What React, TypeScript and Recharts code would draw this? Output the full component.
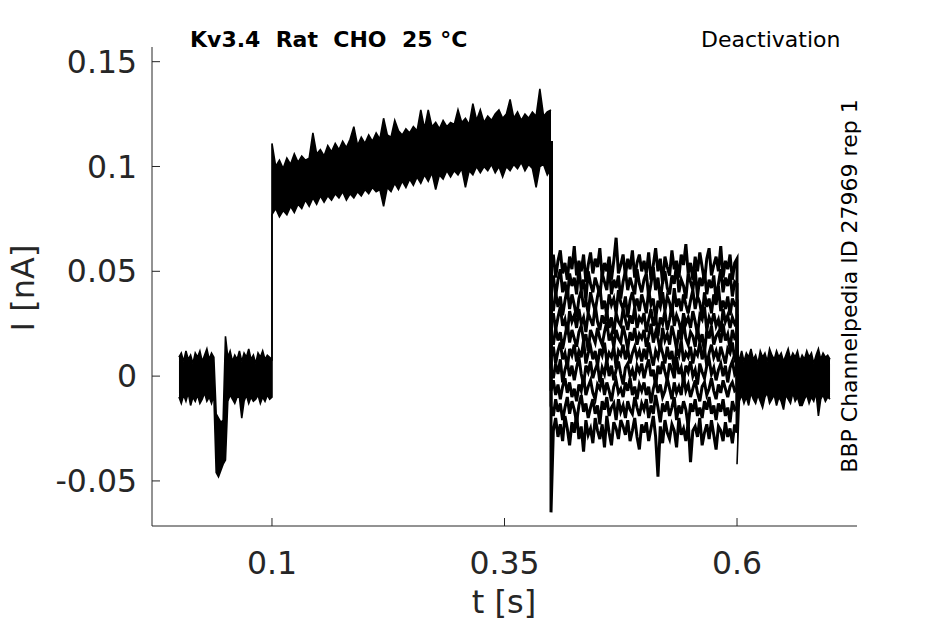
import { ComposedChart, Area, Line, XAxis, YAxis } from 'recharts'

// Kv3.4 deactivation sweeps. Currents are kept in pA, the axis shows nA.

const preDt = 0.0025
const stepDt = 0.004
const tailDt = 0.0025
const postDt = 0.0025
const stepOn = 0.1
const stepOff = 0.4
const tailOff = 0.6

// holding period 0 - 0.1 s: upper / lower edge of the noise band
const preHi = [
  9, 11, 7, 12, 8, 10, 6, 11, 9, 12,
  7, 10, 13, 8, 11, 9, -18, -20, -22, -21,
  19, 9, 12, 7, 10, 8, 12, 7, 11, 9,
  13, 8, 10, 6, 11, 9, 12, 8, 10, 9,
  8,
]
const preLo = [
  -10, -13, -9, -12, -8, -14, -10, -12, -9, -13,
  -11, -8, -12, -10, -13, -9, -46, -48, -45, -42,
  -40, -12, -9, -11, -13, -10, -10, -20, -12, -9,
  -13, -10, -12, -11, -9, -13, -10, -12, -9, -11,
  -10,
]

// activating step 0.1 - 0.4 s
const stepHi = [
  111, 100, 103, 99, 104, 101, 106, 102, 105, 103,
  104, 116, 106, 108, 105, 110, 107, 111, 108, 112,
  109, 113, 119, 110, 114, 111, 115, 112, 116, 113,
  123, 115, 114, 122, 117, 115, 118, 116, 119, 117,
  127, 118, 127, 119, 121, 118, 122, 119, 121, 120,
  127, 121, 123, 120, 130, 122, 127, 121, 124, 122,
  125, 127, 123, 125, 132, 123, 126, 122, 125, 123,
  126, 124, 137, 124, 126, 127,
]
const stepLo = [
  77, 80, 76, 79, 77, 81, 78, 82, 80, 84,
  81, 85, 82, 86, 83, 86, 84, 87, 85, 88,
  84, 87, 85, 88, 86, 89, 87, 90, 88, 89,
  81, 90, 88, 92, 89, 93, 90, 94, 91, 95,
  92, 96, 93, 97, 89, 96, 94, 98, 95, 98,
  96, 99, 90, 98, 96, 100, 97, 100, 98, 101,
  97, 100, 95, 100, 98, 101, 99, 102, 98, 101,
  99, 90, 100, 101, 96, 99,
]

// tail currents 0.4 - 0.6 s, one array per sweep
const tailA = [
  53, 58, 47, 55, 60, 49, 54, 46, 57, 51, 62, 48, 55, 50, 58, 45, 53, 59, 49, 56,
  52, 61, 47, 54, 50, 57, 46, 55, 66, 49, 53, 58, 48, 56, 51, 60, 47, 54, 58, 50,
  55, 49, 59, 46, 53, 61, 50, 56, 44, 57, 52, 48, 60, 51, 55, 47, 58, 53, 63, 49,
  54, 46, 57, 50, 59, 52, 45, 56, 61, 48, 53, 57, 50, 62, 47, 55, 51, 58, 46, 54,
  56,
]
const tailB = [
  42, 48, 38, 46, 51, 40, 45, 37, 49, 43, 47, 39, 52, 41, 46, 36, 50, 44, 40, 47,
  43, 38, 49, 45, 41, 53, 39, 46, 42, 48, 37, 45, 50, 41, 47, 43, 39, 51, 44, 40,
  46, 49, 38, 44, 52, 41, 47, 36, 45, 50, 42, 39, 48, 44, 54, 40, 46, 43, 37, 49,
  45, 41, 51, 38, 47, 43, 50, 39, 46, 42, 48, 36, 44, 51, 40, 47, 43, 49, 38, 45,
  44,
]
const tailC = [
  37, 31, 40, 33, 38, 29, 36, 42, 32, 39, 34, 28, 37, 41, 33, 36, 30, 40, 35, 31,
  38, 43, 32, 36, 29, 39, 34, 37, 30, 41, 35, 32, 38, 28, 36, 40, 33, 37, 31, 39,
  35, 30, 41, 34, 37, 27, 36, 33, 40, 31, 38, 35, 29, 42, 33, 37, 31, 39, 34, 30,
  36, 41, 32, 38, 35, 28, 40, 33, 37, 30, 39, 34, 43, 31, 36, 32, 38, 29, 37, 34,
  35,
]
const tailD = [
  25, 30, 22, 28, 33, 24, 27, 20, 31, 26, 29, 23, 32, 25, 28, 21, 30, 27, 24, 34,
  26, 22, 29, 25, 31, 23, 28, 20, 30, 26, 24, 32, 27, 22, 29, 25, 33, 23, 28, 26,
  30, 21, 27, 32, 24, 29, 19, 28, 25, 31, 22, 27, 34, 24, 29, 26, 21, 30, 25, 28,
  23, 31, 26, 20, 29, 27, 33, 22, 28, 25, 30, 24, 27, 21, 32, 26, 29, 23, 28, 25,
  27,
]
const tailE = [
  20, 15, 23, 17, 21, 13, 19, 25, 16, 22, 18, 14, 21, 24, 17, 20, 12, 22, 19, 16,
  23, 18, 15, 21, 26, 17, 20, 14, 22, 18, 16, 24, 19, 13, 21, 17, 23, 15, 20, 18,
  22, 14, 19, 25, 16, 21, 18, 12, 23, 17, 20, 15, 24, 19, 13, 22, 17, 26, 18, 15,
  21, 19, 14, 23, 16, 20, 11, 22, 18, 24, 15, 19, 21, 16, 25, 17, 20, 13, 22, 18,
  19,
]
const tailF = [
  9, 14, 6, 12, 16, 8, 11, 4, 13, 10, 15, 7, 12, 9, 17, 6, 11, 14, 8, 12,
  5, 13, 10, 16, 7, 11, 9, 14, 4, 12, 10, 15, 8, 13, 6, 11, 14, 9, 12, 7,
  13, 8, 16, 10, 5, 12, 9, 15, 11, 6, 14, 8, 12, 3, 13, 10, 17, 7, 11, 9,
  14, 6, 12, 10, 16, 8, 13, 5, 11, 15, 9, 12, 7, 14, 10, 6, 13, 11, 16, 8,
  10,
]
const tailG = [
  4, -1, 6, 1, 8, -3, 3, 7, 0, 5, -2, 4, 9, 1, -4, 5, 2, 7, -1, 3,
  6, -3, 4, 1, 8, 0, 5, -2, 3, 7, 1, -4, 4, 6, 0, 3, -2, 5, 2, 6,
  -1, 4, 8, 0, 3, -5, 5, 1, 7, 2, -2, 6, 3, -1, 9, 1, 4, -3, 5, 2,
  7, 0, 3, -4, 6, 2, -1, 5, 8, 1, 4, -2, 3, 6, 0, 5, -3, 4, 7, 1,
  3,
]
const tailH = [
  -7, -2, -9, -4, -11, -5, -1, -8, -3, -10, -6, -12, -4, -7, 0, -9, -5, -2, -8, -11,
  -4, -6, -1, -9, -3, -7, -12, -5, -2, -8, -6, -10, -3, -7, -1, -9, -5, -11, -4, -7,
  -3, -9, -5, -13, -6, -2, -8, -4, -10, -7, -1, -6, -11, -3, -8, -5, -9, 0, -7, -4,
  -10, -6, -2, -8, -12, -5, -3, -9, -6, -1, -7, -11, -4, -8, -2, -6, -10, -5, -3, -7,
  -6,
]
const tailI = [
  -14, -19, -11, -17, -13, -21, -15, -10, -18, -12, -16, -22, -14, -9, -17, -13, -20, -15, -11, -18,
  -14, -23, -12, -16, -10, -19, -15, -13, -21, -11, -17, -14, -20, -12, -16, -18, -10, -15, -19, -13,
  -16, -11, -20, -14, -18, -9, -15, -22, -13, -17, -12, -19, -15, -10, -21, -14, -18, -12, -16, -24,
  -13, -17, -11, -19, -15, -20, -12, -16, -10, -18, -14, -21, -13, -17, -11, -19, -15, -22, -12, -16,
  -15,
]
const tailJ = [
  -65, -26, -20, -29, -23, -31, -19, -25, -33, -22, -27, -18, -30, -24, -36, -21, -28, -25, -32, -20,
  -26, -30, -23, -34, -19, -27, -33, -22, -25, -30, -21, -24, -28, -21, -31, -26, -20, -29, -35, -23,
  -27, -22, -31, -25, -19, -29, -48, -24, -32, -21, -27, -30, -23, -26, -34, -20, -28, -25, -31, -22,
  -41, -26, -24, -29, -20, -33, -27, -23, -30, -21, -28, -35, -24, -26, -31, -22, -29, -25, -32, -23,
  -27,
]
const tails = [tailA, tailB, tailC, tailD, tailE, tailF, tailG, tailH, tailI, tailJ]
const tailFrom = 112
const tailTo = 0

// back at holding 0.6 - 0.7 s
const postHi = [
  10, 8, 12, 7, 11, 9, 13, 8, 10, 6,
  12, 9, 11, 7, 13, 10, 8, 12, 9, 11,
  7, 10, 13, 8, 11, 9, 12, 7, 10, 8,
  12, 9, 11, 6, 10, 13, 8, 11, 9, 10,
  8,
]
const postLo = [
  -42, -12, -9, -13, -10, -14, -8, -11, -13, -9,
  -12, -15, -10, -8, -13, -11, -9, -14, -10, -12,
  -16, -9, -11, -13, -8, -12, -10, -14, -14, -11,
  -9, -13, -10, -12, -8, -19, -11, -9, -12, -10,
  -11,
]

const xTicks = [0.1, 0.35, 0.6]
const yTicks = [-50, 0, 50, 100, 150]

type Row = Record<string, number>
const at = (t: number) => Math.round(t * 1e5) / 1e5

const rows: Row[] = []
preHi.forEach((hi, i) => rows.push({ t: at(i * preDt), lo: preLo[i], hi }))
stepHi.forEach((hi, i) => rows.push({ t: at(stepOn + i * stepDt), lo: stepLo[i], hi }))
tails.forEach((_, k) => {
  rows[rows.length - 1][`s${k}`] = tailFrom
})
tailA.forEach((_, i) => {
  const row: Row = { t: at(stepOff + i * tailDt) }
  tails.forEach((tr, k) => {
    row[`s${k}`] = tr[i]
  })
  rows.push(row)
})
postHi.forEach((hi, i) => {
  const row: Row = { t: at(tailOff + i * postDt), plo: postLo[i], phi: hi }
  if (i === 0) tails.forEach((_, k) => (row[`s${k}`] = tailTo))
  rows.push(row)
})

const preBand = (r: Row) => (r.hi === undefined ? null : [r.lo, r.hi])
const postBand = (r: Row) => (r.phi === undefined ? null : [r.plo, r.phi])

const font = 'DejaVu Sans'
const axisColor = '#262626'

export default function App() {
  return (
    <div style={{ position: 'absolute', left: 0, top: 0, width: 945, height: 624, background: '#fff' }}>
      <ComposedChart width={945} height={624} data={rows} margin={{ top: 47, right: 88, bottom: 38, left: 72 }}>
        <XAxis
          type="number"
          dataKey="t"
          domain={[-0.029, 0.729]}
          allowDataOverflow
          ticks={xTicks}
          interval={0}
          tickFormatter={(v: number) => String(v)}
          height={60}
          tickSize={-8}
          tickMargin={34}
          axisLine={{ stroke: axisColor }}
          tickLine={{ stroke: axisColor }}
          tick={{ fontSize: 31.5, fill: axisColor, fontFamily: font }}
        />
        <YAxis
          type="number"
          domain={[-71.5, 157]}
          allowDataOverflow
          ticks={yTicks}
          interval={0}
          tickFormatter={(v: number) => String(v / 1000)}
          width={80}
          tickSize={-8}
          tickMargin={23}
          axisLine={{ stroke: axisColor }}
          tickLine={{ stroke: axisColor }}
          tick={{ fontSize: 31.5, fill: axisColor, fontFamily: font }}
        />
        <Area dataKey={preBand} type="linear" stroke="#000" strokeWidth={1.6} fill="#000" fillOpacity={1} dot={false} activeDot={false} isAnimationActive={false} />
        <Area dataKey={postBand} type="linear" stroke="#000" strokeWidth={1.6} fill="#000" fillOpacity={1} dot={false} activeDot={false} isAnimationActive={false} />
        {tails.map((_, k) => (
          <Line key={k} dataKey={`s${k}`} type="linear" stroke="#000" strokeWidth={3} dot={false} activeDot={false} isAnimationActive={false} />
        ))}
        <text x={190} y={47} fontFamily={font} fontWeight="bold" fontSize={22} fill="#000" style={{ whiteSpace: 'pre' }}>
          {'Kv3.4  Rat  CHO  25 °C'}
        </text>
        <text x={701} y={47} fontFamily={font} fontSize={22} fill="#000">
          Deactivation
        </text>
        <text transform="translate(857,286) rotate(-90)" textAnchor="middle" fontFamily={font} fontSize={22} fill="#000">
          BBP Channelpedia ID 27969 rep 1
        </text>
        <text transform="translate(34,288) rotate(-90)" textAnchor="middle" fontFamily={font} fontSize={32} fill={axisColor}>
          I [nA]
        </text>
        <text x={504} y={613} textAnchor="middle" fontFamily={font} fontSize={32} fill={axisColor}>
          t [s]
        </text>
      </ComposedChart>
    </div>
  )
}
